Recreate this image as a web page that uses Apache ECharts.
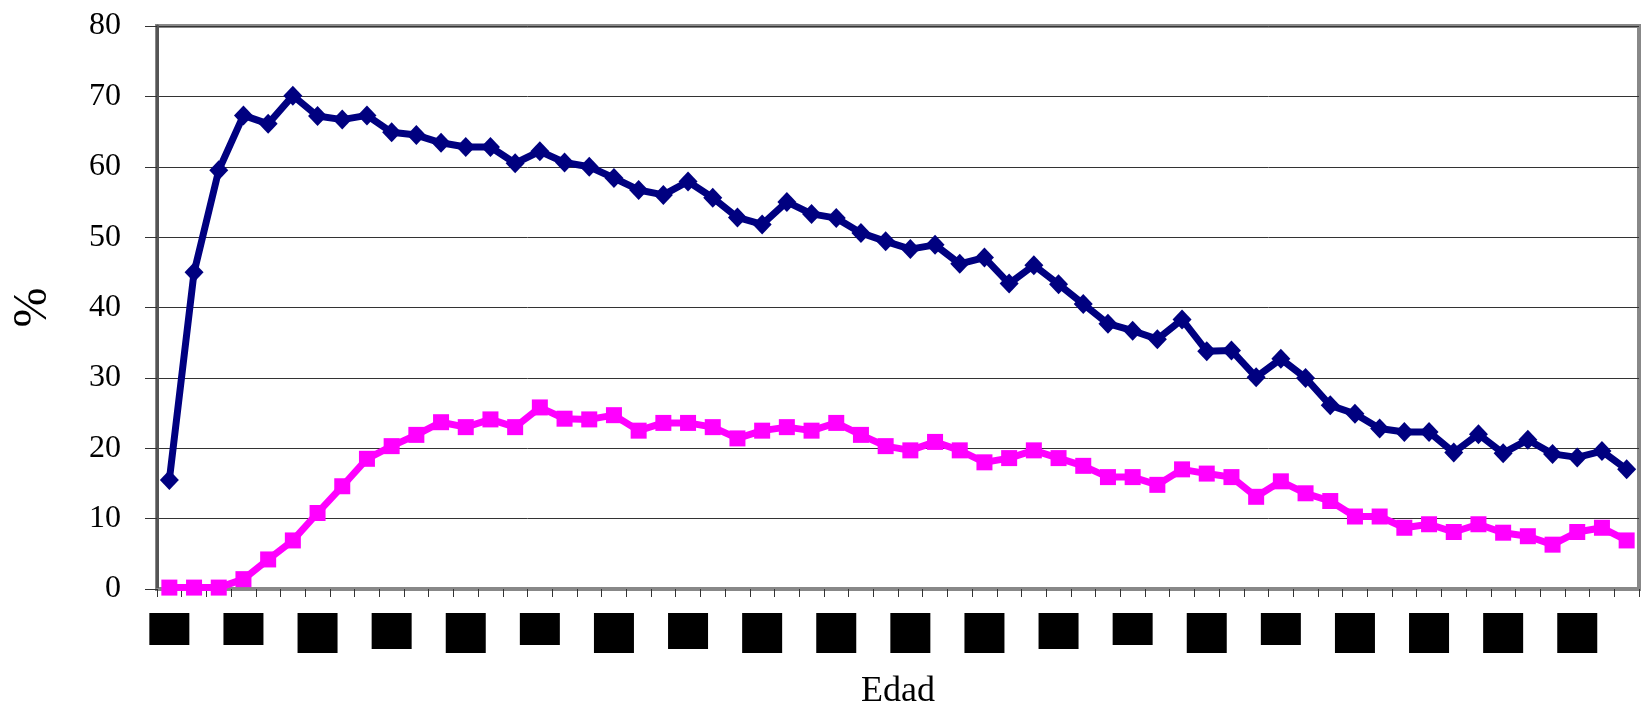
<!DOCTYPE html>
<html>
<head>
<meta charset="utf-8">
<script src="https://cdn.jsdelivr.net/npm/echarts@6/dist/echarts.min.js"></script>
<style>
html,body{margin:0;padding:0;background:#fff;}
#chart{width:1648px;height:715px;}
</style>
</head>
<body>
<div id="chart"></div>
<script>
// Categories (ages) – labels appear as solid black blocks in the reference
const edades = ['15','16','17','18','19','20','21','22','23','24','25','26','27','28','29','30','31','32','33','34','35','36','37','38','39','40','41','42','43','44','45','46','47','48','49','50','51','52','53','54','55','56','57','58','59','60','61','62','63','64','65','66','67','68','69','70','71','72','73','74'];

// Series 1 (navy, diamonds)
const serieAzul = [15.5,45.0,59.5,67.3,66.1,70.1,67.2,66.7,67.3,64.9,64.5,63.4,62.8,62.8,60.5,62.2,60.6,60.0,58.4,56.7,56.0,57.9,55.6,52.8,51.8,55.0,53.3,52.7,50.6,49.4,48.3,48.9,46.2,47.1,43.4,46.0,43.3,40.5,37.7,36.7,35.5,38.3,33.8,33.9,30.1,32.7,30.0,26.1,24.9,22.8,22.3,22.3,19.4,22.0,19.3,21.2,19.2,18.7,19.6,17.0];

// Series 2 (magenta, squares)
const serieRosa = [0.2,0.2,0.2,1.4,4.2,6.9,10.8,14.6,18.5,20.3,21.9,23.7,23.0,24.1,23.0,25.8,24.2,24.1,24.7,22.5,23.6,23.6,23.0,21.4,22.5,23.0,22.5,23.6,21.9,20.3,19.7,20.9,19.7,18.0,18.6,19.7,18.6,17.5,15.9,15.9,14.8,17.0,16.4,15.9,13.1,15.3,13.6,12.5,10.3,10.3,8.7,9.2,8.1,9.2,8.0,7.5,6.3,8.1,8.7,6.9];

// Y axis ticks
const yMin = 0, yMax = 80, yStep = 10;

// block style of each shown x label (short / medium / tall)
const bloques = ['s','s','t','m','t','s','t','m','t','t','t','t','m','s','t','s','t','t','t','t'];

const serif = 'Liberation Serif';
const chart = echarts.init(document.getElementById('chart'), null, {renderer:'canvas'});
chart.setOption({
  animation: false,
  backgroundColor: '#fff',
  grid: {left: 157, right: 9, top: 26, bottom: 120, show: true, borderColor: '#888', borderWidth: 4, backgroundColor: 'transparent'},
  xAxis: {
    type: 'category',
    data: edades,
    boundaryGap: true,
    name: 'Edad',
    nameLocation: 'middle',
    nameGap: 85,
    nameTextStyle: {fontFamily: serif, fontSize: 36, color: '#000'},
    axisLine: {show: true, lineStyle: {color: '#888', width: 3}},
    axisTick: {show: true, interval: 0, length: 8, lineStyle: {color: '#333', width: 1}},
    axisLabel: {
      interval: 2,
      margin: 24,
      formatter: function (v, i) {
        const k = bloques[Math.round(i / 3)] || 't';
        return '{' + k + '|' + v + '}';
      },
      rich: {
        s: {width: 40, height: 32, backgroundColor: '#000', color: '#000', fontSize: 10, verticalAlign: 'top'},
        m: {width: 40, height: 36, backgroundColor: '#000', color: '#000', fontSize: 10, verticalAlign: 'top'},
        t: {width: 40, height: 40, backgroundColor: '#000', color: '#000', fontSize: 10, verticalAlign: 'top'}
      },
      verticalAlign: 'top'
    },
    splitLine: {show: false}
  },
  yAxis: {
    type: 'value',
    min: yMin, max: yMax, interval: yStep,
    name: '%',
    nameLocation: 'middle',
    nameGap: 100,
    nameRotate: 90,
    nameTextStyle: {fontFamily: serif, fontSize: 48, color: '#000'},
    axisLine: {show: true, lineStyle: {color: '#555', width: 3}},
    axisTick: {show: true, length: 12, lineStyle: {color: '#333', width: 1}},
    axisLabel: {fontFamily: serif, fontSize: 32, color: '#000', margin: 36},
    splitLine: {show: true, lineStyle: {color: '#333', width: 1}}
  },
  series: [
    {
      type: 'line', data: serieRosa,
      showAllSymbol: true,
      symbol: 'rect', symbolSize: 16,
      lineStyle: {color: '#FF00FF', width: 7},
      itemStyle: {color: '#FF00FF'},
      z: 2
    },
    {
      type: 'line', data: serieAzul,
      showAllSymbol: true,
      symbol: 'diamond', symbolSize: [19, 20],
      lineStyle: {color: '#000080', width: 7},
      itemStyle: {color: '#000080'},
      z: 3
    }
  ]
});
</script>
</body>
</html>
